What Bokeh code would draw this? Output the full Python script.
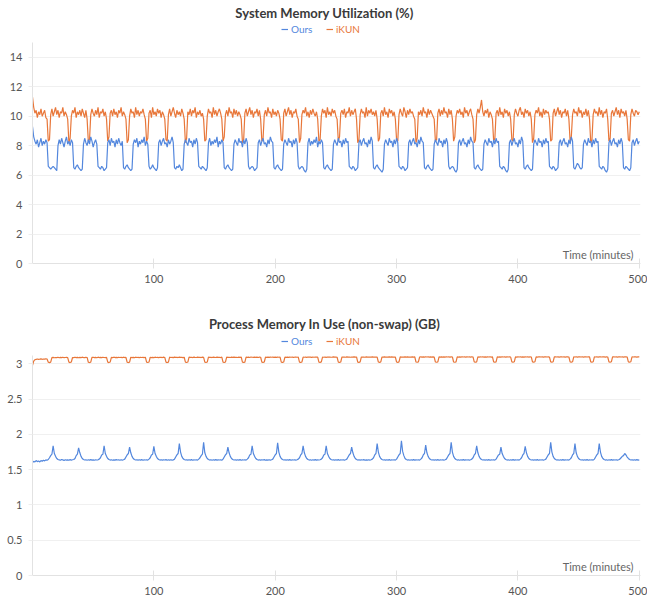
from bokeh.plotting import figure
from bokeh.models import Legend, LegendItem, Label, FixedTicker, NumeralTickFormatter, Range1d
from bokeh.layouts import column
from bokeh.embed import file_html
from bokeh.resources import INLINE

# ---------------- data (one sample per minute) ----------------
minutes = list(range(0, 501))

sys_ikun = [
    11.3, 10.6, 10.2, 10.4, 9.9, 10.3, 10.1, 10.5, 10.0, 10.2,
    10.4, 9.9, 9.8, 8.3, 8.4, 10.1, 10.5, 10.0, 10.3, 10.6,
    10.1, 10.4, 9.9, 10.3, 10.2, 10.6, 10.0, 10.3, 10.1, 9.8,
    8.2, 8.5, 10.0, 10.4, 10.2, 10.6, 9.9, 10.3, 10.1, 10.4,
    10.0, 10.5, 10.2, 9.9, 10.4, 9.8, 8.3, 8.4, 10.1, 10.5,
    10.2, 10.0, 10.4, 10.1, 10.6, 9.9, 10.3, 10.2, 10.5, 10.0,
    10.3, 9.8, 8.3, 8.6, 10.2, 10.4, 10.0, 10.5, 10.1, 10.3,
    9.9, 10.4, 10.2, 10.6, 10.0, 10.3, 10.1, 9.8, 8.2, 8.4,
    10.0, 10.5, 10.2, 10.3, 9.9, 10.6, 10.1, 10.4, 10.0, 10.3,
    10.2, 10.5, 10.1, 9.8, 8.3, 8.5, 10.2, 10.4, 9.9, 10.6,
    10.1, 10.3, 10.0, 10.5, 10.2, 10.4, 9.9, 10.3, 10.1, 9.8,
    8.4, 8.3, 10.1, 10.5, 10.0, 10.3, 10.6, 10.2, 9.9, 10.4,
    10.1, 10.3, 10.0, 10.5, 10.2, 9.8, 8.2, 8.5, 10.3, 10.1,
    10.5, 10.0, 10.4, 10.2, 10.6, 9.9, 10.3, 10.1, 10.4, 10.0,
    10.2, 9.8, 8.3, 8.4, 10.0, 10.5, 10.2, 10.3, 9.9, 10.6,
    10.1, 10.4, 10.0, 10.3, 10.5, 10.2, 9.8, 8.3, 8.6, 10.1,
    10.4, 10.0, 10.6, 10.2, 10.3, 9.9, 10.5, 10.1, 10.4, 10.0,
    10.3, 10.1, 9.8, 8.2, 8.4, 10.2, 10.5, 10.0, 10.3, 10.6,
    10.1, 10.4, 9.9, 10.3, 10.2, 10.5, 10.0, 10.4, 9.8, 8.3,
    8.5, 10.1, 10.4, 10.0, 10.6, 10.2, 10.3, 9.9, 10.5, 10.1,
    10.3, 10.0, 10.4, 10.2, 9.8, 8.4, 8.3, 10.2, 10.5, 10.0,
    10.3, 10.6, 10.1, 10.4, 9.9, 10.3, 10.2, 10.5, 10.0, 9.8,
    8.2, 8.5, 10.1, 10.4, 10.2, 10.6, 10.0, 10.3, 9.9, 10.4,
    10.1, 10.5, 10.2, 10.0, 10.3, 9.8, 8.3, 8.4, 10.0, 10.5,
    10.2, 10.4, 9.9, 10.6, 10.1, 10.3, 10.0, 10.5, 10.2, 10.4,
    10.0, 9.8, 8.3, 8.6, 10.2, 10.4, 10.1, 10.5, 9.9, 10.3,
    10.2, 10.6, 10.0, 10.4, 10.1, 10.3, 10.5, 9.8, 8.2, 8.4,
    10.1, 10.5, 10.2, 10.3, 9.9, 10.6, 10.0, 10.4, 10.2, 10.5,
    10.1, 10.3, 10.0, 10.4, 9.8, 8.3, 8.5, 10.2, 10.4, 10.0,
    10.6, 10.1, 10.3, 9.9, 10.5, 10.2, 10.4, 10.0, 10.3, 9.8,
    8.4, 8.3, 10.1, 10.5, 10.2, 10.0, 10.6, 10.3, 9.9, 10.4,
    10.1, 10.5, 10.2, 10.3, 10.0, 9.8, 8.2, 8.5, 10.3, 10.1,
    10.4, 10.0, 10.6, 10.2, 10.3, 9.9, 10.5, 10.1, 10.4, 10.2,
    10.0, 9.8, 8.3, 8.4, 10.2, 10.5, 10.0, 10.4, 10.1, 10.6,
    10.2, 10.3, 9.9, 10.5, 10.1, 10.4, 9.8, 8.3, 8.6, 10.0,
    10.4, 10.2, 10.5, 10.1, 10.3, 9.9, 10.6, 10.2, 10.4, 10.0,
    10.3, 10.5, 10.1, 9.8, 8.2, 8.4, 10.1, 10.5, 10.2, 10.6,
    11.1, 10.3, 10.0, 10.4, 10.2, 10.5, 9.9, 10.3, 10.1, 9.8,
    8.3, 8.5, 10.2, 10.4, 10.0, 10.6, 10.1, 10.3, 9.9, 10.5,
    10.2, 10.4, 10.0, 10.3, 9.8, 8.4, 8.3, 10.1, 10.5, 10.2,
    10.0, 10.4, 10.6, 10.1, 10.3, 9.9, 10.5, 10.2, 10.4, 10.0,
    10.3, 9.8, 8.2, 8.5, 10.1, 10.4, 10.2, 10.6, 10.0, 10.3,
    9.9, 10.5, 10.1, 10.4, 10.2, 10.3, 9.8, 8.3, 8.4, 10.2,
    10.5, 10.0, 10.3, 10.6, 10.1, 10.4, 9.9, 10.3, 10.2, 10.5,
    10.0, 10.4, 9.8, 8.3, 8.6, 10.1, 10.5, 10.2, 10.3, 10.0,
    10.6, 10.2, 10.4, 9.9, 10.3, 10.1, 10.5, 10.0, 10.4, 9.8,
    8.2, 8.4, 10.1, 10.5, 10.2, 10.3, 10.0, 10.6, 10.1, 10.4,
    9.9, 10.3, 10.2, 10.5, 9.8, 8.3, 8.5, 10.2, 10.4, 10.0,
    10.3, 10.6, 10.1, 10.4, 9.9, 10.5, 10.2, 10.3, 10.0, 10.4,
    9.8, 8.4, 8.3, 10.1, 10.5, 10.2, 10.0, 10.4, 10.3, 10.1,
    10.3,
]

sys_ours = [
    9.3, 8.6, 8.3, 8.1, 8.4, 7.9, 8.2, 8.5, 8.0, 8.3,
    8.1, 8.4, 8.2, 6.6, 6.5, 6.4, 6.5, 6.6, 6.5, 6.4,
    6.3, 8.0, 8.4, 8.1, 8.5, 8.2, 7.9, 8.3, 8.6, 8.1,
    8.3, 8.0, 8.4, 8.2, 6.5, 6.4, 6.6, 6.7, 6.5, 6.4,
    6.3, 6.4, 8.1, 8.5, 8.2, 8.0, 8.4, 8.1, 8.6, 8.3,
    7.9, 8.2, 8.4, 8.1, 6.6, 6.5, 6.4, 6.6, 6.5, 6.3,
    6.4, 6.5, 8.2, 8.4, 8.0, 8.5, 8.2, 8.3, 7.9, 8.4,
    8.1, 8.5, 8.2, 8.0, 8.3, 6.5, 6.4, 6.6, 6.7, 6.5,
    6.4, 6.3, 6.4, 8.1, 8.4, 8.2, 8.5, 7.9, 8.3, 8.1,
    8.4, 8.2, 8.6, 8.0, 8.3, 8.1, 6.6, 6.4, 6.5, 6.7,
    6.5, 6.4, 6.3, 6.5, 8.2, 8.4, 8.0, 8.3, 8.5, 8.1,
    8.2, 7.9, 8.4, 8.1, 8.3, 8.6, 8.2, 6.5, 6.4, 6.6,
    6.5, 6.7, 6.5, 6.3, 6.4, 8.1, 8.4, 8.2, 8.0, 8.5,
    8.2, 8.3, 7.9, 8.4, 8.1, 8.5, 8.2, 6.6, 6.5, 6.4,
    6.6, 6.5, 6.4, 6.3, 6.5, 8.2, 8.5, 8.0, 8.3, 8.1,
    8.4, 8.2, 8.6, 7.9, 8.3, 8.1, 8.4, 8.2, 6.5, 6.4,
    6.6, 6.7, 6.5, 6.4, 6.3, 6.4, 8.1, 8.4, 8.2, 8.0,
    8.5, 8.2, 8.3, 7.9, 8.4, 8.1, 8.5, 8.2, 6.6, 6.4,
    6.5, 6.6, 6.5, 6.3, 6.4, 6.5, 8.2, 8.4, 8.0, 8.3,
    8.5, 8.1, 8.2, 7.9, 8.4, 8.1, 8.6, 8.3, 8.2, 6.5,
    6.4, 6.6, 6.7, 6.5, 6.4, 6.3, 6.4, 8.1, 8.4, 8.2,
    8.0, 8.5, 8.2, 8.3, 7.9, 8.4, 8.1, 8.5, 8.2, 6.6,
    6.4, 6.5, 6.6, 6.5, 6.3, 6.2, 6.4, 8.2, 8.5, 8.0,
    8.3, 8.1, 8.4, 8.2, 8.6, 7.9, 8.3, 8.1, 8.4, 8.2,
    6.5, 6.4, 6.6, 6.7, 6.5, 6.4, 6.3, 6.4, 8.1, 8.4,
    8.2, 8.0, 8.5, 8.2, 8.3, 7.9, 8.4, 8.1, 8.5, 8.2,
    8.3, 6.6, 6.5, 6.4, 6.6, 6.5, 6.3, 6.4, 6.5, 8.2,
    8.4, 8.0, 8.3, 8.5, 8.1, 8.2, 7.9, 8.4, 8.1, 8.6,
    8.3, 6.5, 6.4, 6.6, 6.7, 6.5, 6.4, 6.3, 6.2, 6.4,
    8.1, 8.4, 8.2, 8.0, 8.5, 8.2, 8.3, 7.9, 8.4, 8.1,
    8.5, 8.2, 6.6, 6.5, 6.4, 6.6, 6.5, 6.3, 6.4, 6.5,
    8.2, 8.4, 8.0, 8.3, 8.5, 8.1, 8.2, 7.9, 8.4, 8.1,
    8.6, 8.3, 8.2, 6.5, 6.4, 6.6, 6.7, 6.5, 6.4, 6.3,
    6.4, 8.1, 8.4, 8.2, 8.0, 8.5, 8.2, 8.3, 7.9, 8.4,
    8.1, 8.5, 8.2, 6.6, 6.4, 6.5, 6.6, 6.5, 6.3, 6.2,
    6.4, 8.2, 8.4, 8.0, 8.3, 8.5, 8.1, 8.2, 7.9, 8.4,
    8.1, 8.6, 8.3, 8.2, 6.5, 6.4, 6.6, 6.7, 6.5, 6.4,
    6.3, 6.4, 8.1, 8.4, 8.2, 8.0, 8.5, 8.2, 8.3, 7.9,
    8.4, 8.1, 8.5, 8.2, 8.3, 6.6, 6.5, 6.4, 6.6, 6.5,
    6.3, 6.2, 6.4, 8.2, 8.4, 8.0, 8.3, 8.5, 8.1, 8.2,
    7.9, 8.4, 8.1, 8.6, 8.3, 6.5, 6.4, 6.6, 6.7, 6.5,
    6.4, 6.3, 6.4, 8.1, 8.4, 8.2, 8.0, 8.5, 8.2, 8.3,
    7.9, 8.4, 8.1, 8.5, 8.2, 8.3, 6.6, 6.5, 6.4, 6.6,
    6.5, 6.3, 6.4, 6.5, 8.2, 8.4, 8.0, 8.3, 8.5, 8.1,
    8.2, 7.9, 8.4, 8.1, 8.6, 8.3, 6.5, 6.4, 6.6, 6.8,
    6.7, 6.5, 6.4, 6.5, 8.1, 8.4, 8.2, 8.0, 8.5, 8.2,
    8.3, 7.9, 8.4, 8.1, 8.5, 8.2, 8.3, 6.6, 6.5, 6.4,
    6.6, 6.5, 6.3, 6.2, 6.4, 8.2, 8.4, 8.0, 8.3, 8.5,
    8.1, 8.2, 7.9, 8.4, 8.1, 8.5, 8.2, 6.5, 6.4, 6.6,
    6.5, 6.4, 6.3, 6.5, 8.2, 8.4, 8.0, 8.3, 8.5, 8.1,
    8.3,
]

proc_ikun = [
    2.98, 3.04, 3.06, 3.065, 3.07, 3.066, 3.068, 3.072, 3.066, 3.07,
    3.068, 3.072, 3.07, 3.025, 3.02, 3.025, 3.09, 3.094, 3.088, 3.092,
    3.09, 3.095, 3.088, 3.093, 3.09, 3.096, 3.089, 3.092, 3.094, 3.09,
    3.025, 3.02, 3.028, 3.092, 3.089, 3.095, 3.091, 3.094, 3.088, 3.093,
    3.09, 3.096, 3.091, 3.089, 3.094, 3.092, 3.024, 3.02, 3.026, 3.093,
    3.095, 3.09, 3.094, 3.088, 3.096, 3.091, 3.093, 3.089, 3.095, 3.092,
    3.09, 3.094, 3.025, 3.02, 3.027, 3.094, 3.09, 3.096, 3.091, 3.093,
    3.089, 3.095, 3.092, 3.094, 3.09, 3.096, 3.091, 3.093, 3.024, 3.02,
    3.026, 3.095, 3.091, 3.094, 3.089, 3.096, 3.092, 3.093, 3.09, 3.095,
    3.092, 3.094, 3.09, 3.096, 3.025, 3.021, 3.027, 3.095, 3.091, 3.094,
    3.09, 3.096, 3.092, 3.094, 3.089, 3.095, 3.093, 3.091, 3.096, 3.092,
    3.025, 3.02, 3.026, 3.096, 3.092, 3.094, 3.09, 3.097, 3.093, 3.095,
    3.091, 3.096, 3.093, 3.094, 3.09, 3.095, 3.025, 3.021, 3.027, 3.096,
    3.093, 3.095, 3.091, 3.097, 3.094, 3.092, 3.096, 3.093, 3.095, 3.091,
    3.096, 3.093, 3.026, 3.021, 3.027, 3.097, 3.093, 3.095, 3.091, 3.096,
    3.094, 3.092, 3.097, 3.093, 3.095, 3.091, 3.096, 3.025, 3.021, 3.028,
    3.097, 3.093, 3.095, 3.092, 3.096, 3.094, 3.098, 3.093, 3.095, 3.092,
    3.097, 3.094, 3.096, 3.026, 3.022, 3.027, 3.097, 3.094, 3.096, 3.092,
    3.098, 3.095, 3.093, 3.097, 3.094, 3.096, 3.092, 3.097, 3.095, 3.026,
    3.022, 3.028, 3.097, 3.094, 3.096, 3.093, 3.098, 3.095, 3.097, 3.093,
    3.096, 3.094, 3.098, 3.095, 3.097, 3.026, 3.022, 3.028, 3.097, 3.094,
    3.096, 3.093, 3.098, 3.095, 3.097, 3.094, 3.096, 3.099, 3.095, 3.097,
    3.027, 3.022, 3.028, 3.098, 3.095, 3.097, 3.094, 3.099, 3.096, 3.098,
    3.094, 3.097, 3.095, 3.099, 3.096, 3.098, 3.027, 3.023, 3.029, 3.098,
    3.095, 3.097, 3.094, 3.099, 3.096, 3.098, 3.095, 3.097, 3.1, 3.096,
    3.098, 3.095, 3.027, 3.023, 3.028, 3.099, 3.096, 3.098, 3.095, 3.1,
    3.097, 3.099, 3.095, 3.098, 3.096, 3.1, 3.097, 3.099, 3.027, 3.023,
    3.029, 3.099, 3.096, 3.098, 3.095, 3.1, 3.097, 3.099, 3.096, 3.098,
    3.1, 3.096, 3.099, 3.097, 3.098, 3.028, 3.023, 3.029, 3.099, 3.096,
    3.1, 3.097, 3.099, 3.096, 3.101, 3.098, 3.1, 3.097, 3.099, 3.096,
    3.028, 3.023, 3.029, 3.1, 3.097, 3.099, 3.096, 3.101, 3.098, 3.1,
    3.097, 3.099, 3.096, 3.101, 3.098, 3.1, 3.028, 3.024, 3.03, 3.099,
    3.101, 3.097, 3.1, 3.098, 3.102, 3.099, 3.1, 3.097, 3.101, 3.098,
    3.1, 3.097, 3.028, 3.024, 3.03, 3.1, 3.098, 3.101, 3.097, 3.1,
    3.098, 3.102, 3.099, 3.1, 3.097, 3.101, 3.099, 3.028, 3.024, 3.03,
    3.101, 3.098, 3.1, 3.097, 3.102, 3.099, 3.1, 3.098, 3.101, 3.099,
    3.1, 3.097, 3.102, 3.099, 3.029, 3.024, 3.03, 3.1, 3.098, 3.101,
    3.099, 3.102, 3.098, 3.1, 3.097, 3.101, 3.099, 3.102, 3.098, 3.1,
    3.029, 3.024, 3.03, 3.101, 3.098, 3.1, 3.097, 3.102, 3.099, 3.1,
    3.098, 3.101, 3.099, 3.102, 3.098, 3.029, 3.024, 3.031, 3.1, 3.098,
    3.101, 3.099, 3.102, 3.098, 3.1, 3.097, 3.101, 3.099, 3.102, 3.098,
    3.1, 3.099, 3.029, 3.025, 3.031, 3.101, 3.098, 3.1, 3.102, 3.099,
    3.101, 3.098, 3.1, 3.102, 3.099, 3.101, 3.098, 3.029, 3.025, 3.031,
    3.1, 3.102, 3.099, 3.101, 3.098, 3.1, 3.102, 3.099, 3.101, 3.098,
    3.1, 3.102, 3.099, 3.03, 3.025, 3.031, 3.101, 3.099, 3.102, 3.098,
    3.1, 3.101, 3.099, 3.102, 3.098, 3.1, 3.101, 3.099, 3.102, 3.1,
    3.03, 3.025, 3.031, 3.101, 3.099, 3.102, 3.098, 3.1, 3.101, 3.099,
    3.102, 3.1, 3.098, 3.101, 3.099, 3.03, 3.025, 3.031, 3.1, 3.102,
    3.099, 3.101, 3.098, 3.1, 3.102, 3.099, 3.101, 3.098, 3.1, 3.102,
    3.099, 3.03, 3.025, 3.031, 3.101, 3.099, 3.102, 3.1, 3.098, 3.101,
    3.1,
]

proc_ours = [
    1.6, 1.62, 1.61, 1.63, 1.615, 1.625, 1.61, 1.63, 1.62, 1.635,
    1.625, 1.64, 1.635, 1.645, 1.67, 1.70, 1.72, 1.84, 1.73, 1.69,
    1.66, 1.645, 1.64, 1.635, 1.645, 1.64, 1.632, 1.642, 1.636, 1.64,
    1.634, 1.643, 1.637, 1.641, 1.645, 1.66, 1.70, 1.72, 1.81, 1.74,
    1.69, 1.66, 1.645, 1.638, 1.642, 1.635, 1.641, 1.637, 1.643, 1.636,
    1.64, 1.634, 1.642, 1.638, 1.641, 1.65, 1.67, 1.71, 1.72, 1.84,
    1.73, 1.69, 1.66, 1.645, 1.637, 1.642, 1.635, 1.64, 1.636, 1.643,
    1.638, 1.641, 1.634, 1.642, 1.637, 1.641, 1.65, 1.68, 1.71, 1.73,
    1.82, 1.74, 1.69, 1.66, 1.645, 1.638, 1.642, 1.636, 1.641, 1.637,
    1.643, 1.635, 1.64, 1.638, 1.642, 1.636, 1.65, 1.67, 1.71, 1.72,
    1.83, 1.73, 1.69, 1.66, 1.645, 1.637, 1.642, 1.636, 1.641, 1.638,
    1.643, 1.635, 1.641, 1.637, 1.642, 1.636, 1.64, 1.65, 1.68, 1.71,
    1.73, 1.87, 1.75, 1.69, 1.66, 1.645, 1.638, 1.642, 1.636, 1.641,
    1.637, 1.643, 1.635, 1.64, 1.638, 1.642, 1.636, 1.65, 1.67, 1.70,
    1.72, 1.89, 1.74, 1.69, 1.66, 1.645, 1.637, 1.642, 1.635, 1.641,
    1.637, 1.643, 1.636, 1.64, 1.638, 1.642, 1.635, 1.65, 1.68, 1.71,
    1.73, 1.82, 1.74, 1.69, 1.66, 1.645, 1.638, 1.641, 1.636, 1.642,
    1.637, 1.643, 1.635, 1.64, 1.638, 1.642, 1.636, 1.65, 1.67, 1.71,
    1.72, 1.84, 1.73, 1.69, 1.66, 1.645, 1.637, 1.642, 1.636, 1.641,
    1.638, 1.643, 1.635, 1.64, 1.637, 1.642, 1.636, 1.641, 1.65, 1.68,
    1.71, 1.73, 1.88, 1.75, 1.69, 1.66, 1.645, 1.638, 1.642, 1.636,
    1.641, 1.637, 1.643, 1.635, 1.64, 1.638, 1.642, 1.636, 1.641, 1.65,
    1.67, 1.71, 1.73, 1.84, 1.74, 1.69, 1.66, 1.645, 1.637, 1.642,
    1.635, 1.641, 1.637, 1.643, 1.636, 1.64, 1.638, 1.642, 1.65, 1.67,
    1.71, 1.72, 1.84, 1.73, 1.69, 1.66, 1.645, 1.638, 1.641, 1.636,
    1.642, 1.637, 1.643, 1.635, 1.64, 1.638, 1.642, 1.636, 1.641, 1.65,
    1.68, 1.71, 1.73, 1.82, 1.74, 1.69, 1.66, 1.645, 1.637, 1.642,
    1.636, 1.641, 1.638, 1.643, 1.635, 1.64, 1.637, 1.642, 1.636, 1.641,
    1.65, 1.67, 1.71, 1.73, 1.87, 1.75, 1.69, 1.66, 1.645, 1.638,
    1.642, 1.636, 1.641, 1.637, 1.643, 1.635, 1.64, 1.638, 1.642, 1.636,
    1.65, 1.68, 1.71, 1.73, 1.91, 1.76, 1.70, 1.66, 1.645, 1.637,
    1.642, 1.635, 1.641, 1.637, 1.643, 1.636, 1.64, 1.638, 1.642, 1.636,
    1.65, 1.67, 1.71, 1.73, 1.85, 1.74, 1.69, 1.66, 1.645, 1.638,
    1.641, 1.636, 1.642, 1.637, 1.643, 1.635, 1.64, 1.638, 1.642, 1.636,
    1.641, 1.65, 1.68, 1.71, 1.73, 1.89, 1.75, 1.69, 1.66, 1.645,
    1.637, 1.642, 1.635, 1.641, 1.637, 1.643, 1.636, 1.64, 1.638, 1.642,
    1.636, 1.641, 1.65, 1.67, 1.71, 1.73, 1.84, 1.74, 1.69, 1.66,
    1.645, 1.638, 1.642, 1.636, 1.641, 1.637, 1.643, 1.635, 1.64, 1.638,
    1.642, 1.636, 1.65, 1.68, 1.71, 1.72, 1.82, 1.73, 1.69, 1.66,
    1.645, 1.637, 1.642, 1.635, 1.641, 1.637, 1.643, 1.636, 1.64, 1.638,
    1.642, 1.636, 1.65, 1.67, 1.71, 1.73, 1.83, 1.74, 1.69, 1.66,
    1.645, 1.638, 1.641, 1.636, 1.642, 1.637, 1.643, 1.635, 1.64, 1.638,
    1.642, 1.636, 1.641, 1.65, 1.68, 1.71, 1.73, 1.89, 1.75, 1.69,
    1.66, 1.645, 1.637, 1.642, 1.635, 1.641, 1.637, 1.643, 1.636, 1.64,
    1.638, 1.642, 1.636, 1.65, 1.67, 1.71, 1.73, 1.87, 1.74, 1.69,
    1.66, 1.645, 1.638, 1.641, 1.636, 1.642, 1.637, 1.643, 1.635, 1.64,
    1.638, 1.642, 1.636, 1.65, 1.68, 1.71, 1.73, 1.87, 1.75, 1.69,
    1.66, 1.645, 1.637, 1.642, 1.635, 1.641, 1.637, 1.643, 1.636, 1.64,
    1.638, 1.642, 1.636, 1.641, 1.65, 1.67, 1.69, 1.70, 1.73, 1.71,
    1.68, 1.66, 1.645, 1.638, 1.642, 1.636, 1.641, 1.637, 1.643, 1.636,
    1.64,
]

x_ticks = [100, 200, 300, 400, 500]
sys_ticks = [0, 2, 4, 6, 8, 10, 12, 14]
proc_ticks = [0, 0.5, 1, 1.5, 2, 2.5, 3]
series_names = ["Ours", "iKUN"]

BLUE = "#5387DD"
ORANGE = "#E8773A"
FONT = "Lato"
W = 647
LEFT = 32
RIGHT = 7
FRAME_W = W - LEFT - RIGHT


def make_fig(height, plot_top, bottom, y_top, yticks, yfmt, title, y_ours, y_ikun,
             title_from_top, legend_from_top):
    # the frame spans the whole figure height above the x axis; the data area
    # (axis bounds 0..y_top) starts plot_top px below the figure top
    frame_h = height - bottom
    px_per_unit = (frame_h - plot_top) / y_top
    y_max = frame_h / px_per_unit
    p = figure(width=W, height=height, output_backend="svg", toolbar_location=None,
               x_range=Range1d(0, 501), y_range=Range1d(0, y_max),
               min_border_left=LEFT, min_border_right=RIGHT,
               min_border_top=0, min_border_bottom=bottom)
    p.outline_line_color = None
    p.background_fill_color = "white"
    p.border_fill_color = "white"

    r_ikun = p.line(minutes, y_ikun, line_color=ORANGE, line_width=1.2)
    r_ours = p.line(minutes, y_ours, line_color=BLUE, line_width=1.2)

    for name, rend, color, lx in [(series_names[0], r_ours, BLUE, 249),
                                  (series_names[1], r_ikun, ORANGE, 294)]:
        lg = Legend(items=[LegendItem(label=name, renderers=[rend])],
                    location=(lx, frame_h - legend_from_top - 6), orientation="horizontal",
                    padding=0, margin=0, spacing=0, border_line_color=None,
                    background_fill_alpha=0, glyph_width=7, glyph_height=12,
                    label_height=12, label_standoff=3,
                    label_text_font=FONT, label_text_font_size="10px",
                    label_text_color=color)
        p.add_layout(lg)

    p.add_layout(Label(x=292, y=frame_h - title_from_top, x_units="screen", y_units="screen",
                       text=title, text_align="center", text_baseline="middle",
                       text_font=FONT, text_font_size="13px", text_font_style="bold",
                       text_color="#3a3a3a"))
    p.add_layout(Label(x=FRAME_W - 7, y=3, x_units="screen", y_units="screen",
                       text="Time (minutes)", text_align="right", text_baseline="bottom",
                       text_font=FONT, text_font_size="11px", text_color="#666666"))

    p.xgrid.visible = False
    p.ygrid.grid_line_color = "#f0f0f0"
    p.ygrid.ticker = FixedTicker(ticks=yticks)

    xa = p.xaxis[0]
    xa.ticker = FixedTicker(ticks=x_ticks)
    xa.axis_line_color = "#e2e2e2"
    xa.major_tick_line_color = "#e2e2e2"
    xa.major_tick_in = 5
    xa.major_tick_out = 5
    xa.minor_tick_line_color = None
    xa.major_label_standoff = 6
    xa.major_label_text_font = FONT
    xa.major_label_text_font_size = "11px"
    xa.major_label_text_color = "#555555"

    ya = p.yaxis[0]
    ya.bounds = (0, y_top)
    ya.ticker = FixedTicker(ticks=yticks)
    ya.formatter = NumeralTickFormatter(format=yfmt)
    ya.axis_line_color = "#e2e2e2"
    ya.major_tick_line_color = "#eeeeee"
    ya.major_tick_in = 0
    ya.major_tick_out = 4
    ya.minor_tick_line_color = None
    ya.major_label_standoff = 6
    ya.major_label_text_font = FONT
    ya.major_label_text_font_size = "11px"
    ya.major_label_text_color = "#555555"
    return p


p1 = make_fig(309, 42, 46, 15.0, sys_ticks, "0",
              "System Memory Utilization (%)", sys_ours, sys_ikun,
              title_from_top=12, legend_from_top=29)
p2 = make_fig(293, 46, 27, 3.12, proc_ticks, "0.[0]",
              "Process Memory In Use (non-swap) (GB)", proc_ours, proc_ikun,
              title_from_top=14, legend_from_top=32)

layout = column(p1, p2, spacing=0)
open("out.html", "w").write(file_html(layout, INLINE))
